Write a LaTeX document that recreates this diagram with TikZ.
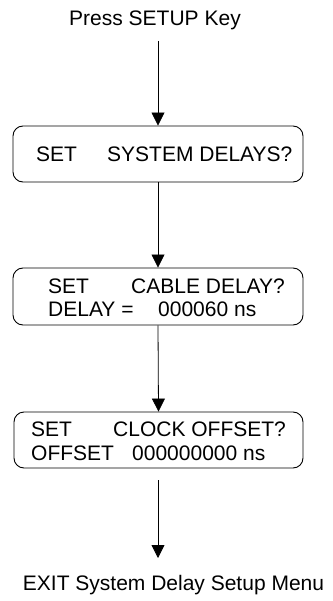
\documentclass[tikz,border=0pt]{standalone}
\usepackage{fontspec}
\setmainfont{Liberation Sans}
\usetikzlibrary{arrows.meta}
\begin{document}
\begin{tikzpicture}[x=1pt,y=-1pt,
  box/.style={draw, rounded corners=10pt, line width=0.9pt, inner sep=0pt, rectangle},
  lbl/.style={font=\fontsize{21}{25}\selectfont, inner sep=0pt, anchor=base west},
  ttl/.style={font=\fontsize{21}{25}\selectfont, inner sep=0pt, anchor=base},
  arr/.style={-{Triangle[width=13pt,length=13pt]}, line width=0.8pt}]
\useasboundingbox (0,0) rectangle (332,601);
% title and exit texts
\node[ttl] (press) at (155,26) {Press SETUP Key};
\node[ttl] (exit) at (173.5,590.5) {EXIT System Delay Setup Menu};
% boxes
\node[box, minimum width=290pt, minimum height=56pt] (b1) at (158,154) {};
\node[box, minimum width=290pt, minimum height=57pt] (b2) at (158,296.5) {};
\node[box, minimum width=289pt, minimum height=56pt] (b3) at (158.5,440) {};
% box texts
\node[lbl] (t11) at (36,162) {SET};
\node[lbl] (t12) at (107,162) {SYSTEM DELAYS?};
\node[lbl] (t21) at (48,293) {SET};
\node[lbl] (t22) at (131,293) {CABLE DELAY?};
\node[lbl] (t23) at (48,316.5) {DELAY =};
\node[lbl] (t24) at (158,316.5) {000060 ns};
\node[lbl] (t31) at (31,436.5) {SET};
\node[lbl] (t32) at (113,436.5) {CLOCK OFFSET?};
\node[lbl] (t33) at (31,460) {OFFSET};
\node[lbl] (t34) at (132,460) {000000000 ns};
% connectors
\coordinate (a1) at (158,41);
\coordinate (a4) at (158,480);
\coordinate (a4e) at (158,558);
\draw[arr] (a1) -- (b1.north);
\draw[arr] (b1.south) -- (b2.north);
\draw[arr] (b2.south) -- (b3.north);
\draw[arr] (a4) -- (a4e);
\end{tikzpicture}
\end{document}
